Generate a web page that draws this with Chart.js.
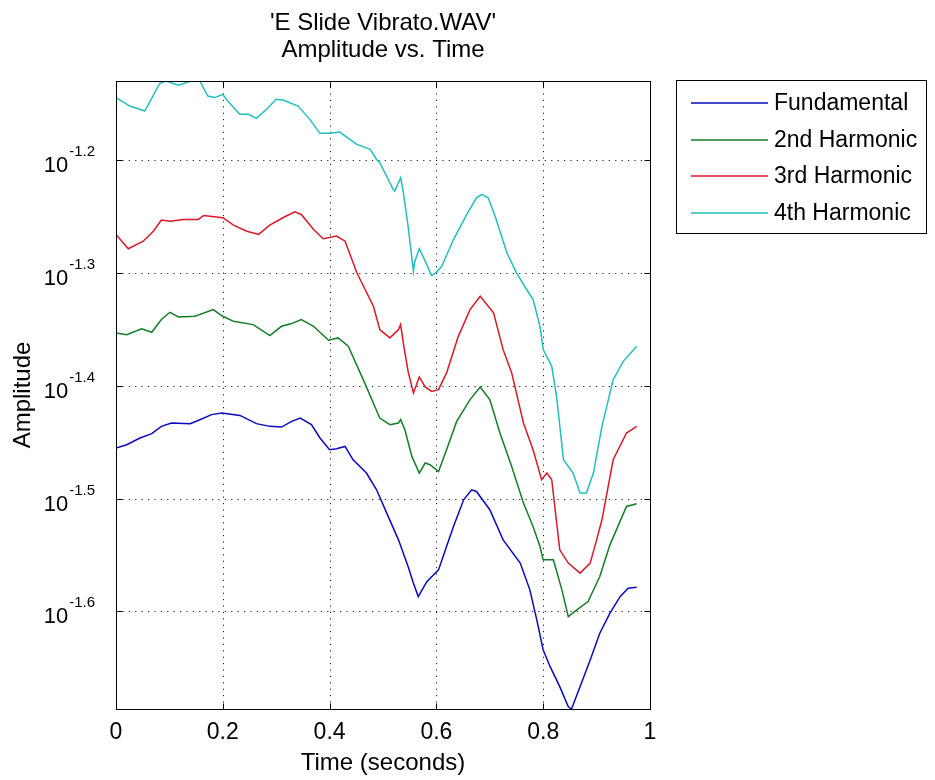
<!DOCTYPE html>
<html>
<head>
<meta charset="utf-8">
<script src="https://cdn.jsdelivr.net/npm/chart.js@4/dist/chart.umd.min.js"></script>
<style>
  html, body { margin: 0; padding: 0; background: #ffffff; }
  #wrap { width: 935px; height: 780px; position: relative; }
</style>
</head>
<body>
<div id="wrap"><canvas id="c" width="935" height="780"></canvas></div>
<script>
// ---- Data (time in seconds, amplitude given as log10 exponent) ----
const chartTitle = ["'E Slide Vibrato.WAV'", "Amplitude vs. Time"];
const xAxisLabel = "Time (seconds)";
const yAxisLabel = "Amplitude";
const seriesLabels = ["Fundamental", "2nd Harmonic", "3rd Harmonic", "4th Harmonic"];
const xTickValues = [0, 0.2, 0.4, 0.6, 0.8, 1];
const xTickLabels = ["0", "0.2", "0.4", "0.6", "0.8", "1"];
const yTickExponents = [-1.6, -1.5, -1.4, -1.3, -1.2];
const yTickExponentLabels = ["-1.6", "-1.5", "-1.4", "-1.3", "-1.2"];
const yMinExponent = -1.6865;
const yMaxExponent = -1.1299;

const fundamentalTime = [0,0.02,0.045,0.067,0.085,0.104,0.139,0.157,0.179,0.198,0.232,0.263,0.288,0.31,0.329,0.345,0.366,0.382,0.4,0.413,0.429,0.444,0.469,0.488,0.507,0.529,0.547,0.557,0.566,0.582,0.604,0.619,0.632,0.651,0.666,0.675,0.7,0.725,0.757,0.775,0.788,0.8,0.813,0.831,0.847,0.853,0.869,0.888,0.906,0.925,0.944,0.959,0.975];
const fundamentalLog10 = [-1.4552,-1.4523,-1.4463,-1.4425,-1.436,-1.433,-1.4336,-1.4301,-1.4256,-1.4241,-1.4263,-1.4336,-1.436,-1.4366,-1.4316,-1.4286,-1.4345,-1.4463,-1.4567,-1.4558,-1.4538,-1.4656,-1.4774,-1.4922,-1.5129,-1.5366,-1.5603,-1.575,-1.5869,-1.5736,-1.5632,-1.5425,-1.5248,-1.5011,-1.4922,-1.4937,-1.5099,-1.5366,-1.5572,-1.5809,-1.6075,-1.6342,-1.649,-1.6667,-1.6845,-1.6865,-1.6667,-1.643,-1.6193,-1.6016,-1.5869,-1.5794,-1.5785];

const harmonic2Time = [0,0.02,0.048,0.067,0.085,0.101,0.117,0.148,0.182,0.2,0.22,0.257,0.288,0.31,0.329,0.347,0.37,0.398,0.416,0.435,0.463,0.494,0.513,0.529,0.533,0.541,0.554,0.568,0.579,0.588,0.604,0.619,0.638,0.663,0.682,0.7,0.719,0.741,0.763,0.781,0.794,0.8,0.819,0.835,0.847,0.863,0.884,0.906,0.925,0.956,0.975];
const harmonic2Log10 = [-1.3532,-1.3547,-1.3496,-1.3526,-1.3413,-1.3349,-1.339,-1.3384,-1.3325,-1.3384,-1.3429,-1.3458,-1.3555,-1.3473,-1.3449,-1.3413,-1.3473,-1.3597,-1.3576,-1.365,-1.3946,-1.4286,-1.4345,-1.433,-1.4301,-1.439,-1.4626,-1.4774,-1.4685,-1.47,-1.476,-1.4567,-1.4316,-1.4123,-1.4011,-1.4123,-1.4419,-1.4715,-1.504,-1.5248,-1.5425,-1.5543,-1.5543,-1.5809,-1.6046,-1.5987,-1.5913,-1.5691,-1.541,-1.507,-1.5046];

const harmonic3Time = [0,0.023,0.051,0.07,0.085,0.101,0.126,0.154,0.164,0.2,0.22,0.245,0.267,0.288,0.316,0.335,0.347,0.37,0.388,0.413,0.429,0.451,0.482,0.494,0.513,0.529,0.533,0.538,0.547,0.557,0.568,0.579,0.591,0.604,0.619,0.641,0.663,0.682,0.707,0.725,0.741,0.763,0.781,0.797,0.807,0.816,0.831,0.847,0.869,0.888,0.9,0.91,0.931,0.956,0.975];
const harmonic3Log10 = [-1.2659,-1.2786,-1.2719,-1.263,-1.2532,-1.2541,-1.2526,-1.2526,-1.2491,-1.2511,-1.2577,-1.263,-1.2659,-1.2577,-1.2502,-1.2458,-1.2482,-1.2615,-1.2697,-1.2674,-1.2719,-1.2999,-1.3295,-1.3502,-1.3576,-1.3502,-1.3458,-1.362,-1.3872,-1.4064,-1.3922,-1.4011,-1.405,-1.4035,-1.3886,-1.3562,-1.3325,-1.3207,-1.3354,-1.368,-1.3886,-1.433,-1.4567,-1.4833,-1.4774,-1.4833,-1.5454,-1.5572,-1.5661,-1.5572,-1.5366,-1.5188,-1.4656,-1.4419,-1.436];

const harmonic4Time = [0,0.026,0.054,0.082,0.094,0.117,0.139,0.157,0.172,0.185,0.2,0.209,0.232,0.248,0.263,0.282,0.3,0.313,0.341,0.363,0.382,0.4,0.419,0.451,0.476,0.488,0.494,0.519,0.522,0.533,0.538,0.547,0.557,0.559,0.568,0.579,0.591,0.599,0.61,0.632,0.657,0.675,0.685,0.697,0.71,0.732,0.75,0.769,0.781,0.794,0.8,0.816,0.825,0.838,0.856,0.869,0.881,0.894,0.91,0.931,0.95,0.975];
const harmonic4Log10 = [-1.1446,-1.1521,-1.1565,-1.1319,-1.1299,-1.1337,-1.1302,-1.1299,-1.1432,-1.1446,-1.1417,-1.1476,-1.1594,-1.1594,-1.163,-1.155,-1.1461,-1.1468,-1.1521,-1.1639,-1.1763,-1.1763,-1.1752,-1.1861,-1.1905,-1.1994,-1.2023,-1.226,-1.2275,-1.2156,-1.2287,-1.2586,-1.2985,-1.2908,-1.2786,-1.2896,-1.3023,-1.2999,-1.2941,-1.2704,-1.2482,-1.2334,-1.2304,-1.2334,-1.2497,-1.2822,-1.2999,-1.3147,-1.3236,-1.3473,-1.368,-1.3828,-1.4094,-1.4656,-1.4774,-1.4951,-1.4951,-1.4774,-1.436,-1.3946,-1.3784,-1.365];

const seriesColors = ["rgb(10,10,190)", "rgb(20,125,40)", "rgb(215,25,40)", "rgb(35,190,190)"];

// ---- Build the library's data table ----
function toPoints(times, exps) {
  return times.map((t, i) => ({ x: t, y: Math.pow(10, exps[i]) }));
}
const seriesTimes = [fundamentalTime, harmonic2Time, harmonic3Time, harmonic4Time];
const seriesExps = [fundamentalLog10, harmonic2Log10, harmonic3Log10, harmonic4Log10];
const datasets = seriesLabels.map((lab, i) => ({
  label: lab,
  data: toPoints(seriesTimes[i], seriesExps[i]),
  borderColor: seriesColors[i],
  backgroundColor: seriesColors[i],
  borderWidth: 1.5,
  pointRadius: 0,
  tension: 0,
  fill: false
}));

const FONT = '"Liberation Sans", Arial, Helvetica, sans-serif';

const plotDecor = {
  id: 'plotDecor',
  beforeDatasetsDraw(chart) {
    const { ctx, chartArea: a, scales: { x, y } } = chart;
    ctx.save();
    ctx.strokeStyle = '#1a1a1a';
    ctx.lineWidth = 1;
    ctx.setLineDash([1.2, 5.2]);
    ctx.beginPath();
    xTickValues.forEach(v => {
      const px = Math.round(x.getPixelForValue(v)) + 0.5;
      if (px <= a.left + 2 || px >= a.right - 2) return;
      ctx.moveTo(px, a.bottom); ctx.lineTo(px, a.top);
    });
    yTickExponents.forEach(e => {
      const py = Math.round(y.getPixelForValue(Math.pow(10, e))) + 0.5;
      ctx.moveTo(a.left, py); ctx.lineTo(a.right, py);
    });
    ctx.stroke();
    ctx.restore();
  },
  afterDatasetsDraw(chart) {
    const { ctx, chartArea: a, scales: { x, y } } = chart;
    ctx.save();
    ctx.setLineDash([]);
    ctx.strokeStyle = '#000';
    ctx.lineWidth = 1;
    // axes box
    const L = Math.round(a.left) + 0.5, R = Math.round(a.right) + 0.5;
    const T = Math.round(a.top) + 0.5, B = Math.round(a.bottom) + 0.5;
    ctx.strokeRect(L, T, R - L, B - T);
    // tick marks inside on all four sides
    const tl = 6;
    ctx.beginPath();
    xTickValues.forEach(v => {
      const px = Math.round(x.getPixelForValue(v)) + 0.5;
      ctx.moveTo(px, B); ctx.lineTo(px, B - tl);
      ctx.moveTo(px, T); ctx.lineTo(px, T + tl);
    });
    yTickExponents.forEach(e => {
      const py = Math.round(y.getPixelForValue(Math.pow(10, e))) + 0.5;
      ctx.moveTo(L, py); ctx.lineTo(L + tl, py);
      ctx.moveTo(R, py); ctx.lineTo(R - tl, py);
    });
    ctx.stroke();

    ctx.fillStyle = '#000';
    // x tick labels
    ctx.font = '23px ' + FONT;
    ctx.textAlign = 'center';
    ctx.textBaseline = 'alphabetic';
    xTickValues.forEach((v, i) => {
      ctx.fillText(xTickLabels[i], x.getPixelForValue(v), a.bottom + 30);
    });
    // y tick labels: 10^exponent
    yTickExponents.forEach((e, i) => {
      const py = y.getPixelForValue(Math.pow(10, e));
      ctx.font = '15px ' + FONT;
      const sup = yTickExponentLabels[i];
      const supW = ctx.measureText(sup).width;
      const supRight = a.left - 21;
      ctx.textAlign = 'left';
      ctx.fillText(sup, supRight - supW, py - 4);
      ctx.font = '22px ' + FONT;
      ctx.textAlign = 'right';
      ctx.fillText('10', supRight - supW - 1, py + 12);
    });
    // title
    ctx.font = '24px ' + FONT;
    ctx.textAlign = 'center';
    const cx = (a.left + a.right) / 2;
    ctx.fillText(chartTitle[0], cx, 30);
    ctx.fillText(chartTitle[1], cx, 57);
    // x axis label
    ctx.fillText(xAxisLabel, cx, 770);
    // y axis label
    ctx.save();
    ctx.translate(30, (a.top + a.bottom) / 2);
    ctx.rotate(-Math.PI / 2);
    ctx.fillText(yAxisLabel, 0, 0);
    ctx.restore();

    // legend
    const lx = 676.5, ly = 80.5, lw = 250, lh = 153;
    ctx.fillStyle = '#fff';
    ctx.fillRect(lx, ly, lw, lh);
    ctx.strokeStyle = '#000';
    ctx.strokeRect(lx, ly, lw, lh);
    const rowY = [103, 140, 176, 213];
    chart.data.datasets.forEach((ds, i) => {
      ctx.strokeStyle = ds.borderColor;
      ctx.lineWidth = 1.5;
      ctx.beginPath();
      ctx.moveTo(691, rowY[i]); ctx.lineTo(768, rowY[i]);
      ctx.stroke();
      ctx.fillStyle = '#000';
      ctx.font = '23px ' + FONT;
      ctx.textAlign = 'left';
      ctx.textBaseline = 'middle';
      ctx.fillText(ds.label, 774, rowY[i] + 1);
    });
    ctx.restore();
  }
};

new Chart(document.getElementById('c'), {
  type: 'line',
  data: { datasets },
  options: {
    responsive: false,
    animation: false,
    parsing: true,
    layout: { padding: { left: 0, top: 81, right: 285, bottom: 0 } },
    plugins: { legend: { display: false }, title: { display: false }, tooltip: { enabled: false } },
    scales: {
      x: {
        type: 'linear',
        min: 0,
        max: 1,
        grid: { display: false, drawTicks: false },
        border: { display: false },
        ticks: { display: false },
        afterFit(scale) { scale.height = 71; }
      },
      y: {
        type: 'logarithmic',
        min: Math.pow(10, yMinExponent),
        max: Math.pow(10, yMaxExponent),
        grid: { display: false, drawTicks: false },
        border: { display: false },
        ticks: { display: false },
        afterFit(scale) { scale.width = 116; }
      }
    }
  },
  plugins: [plotDecor]
});
</script>
</body>
</html>
